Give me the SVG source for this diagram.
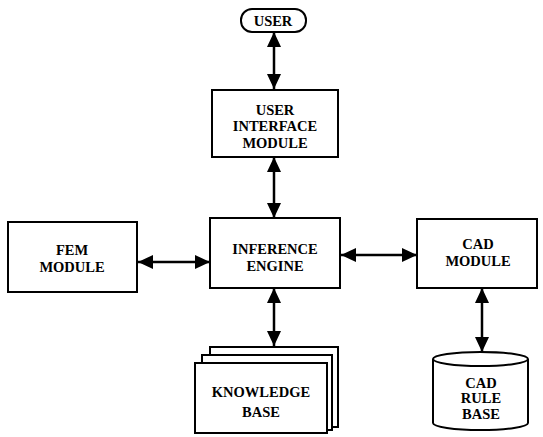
<svg xmlns="http://www.w3.org/2000/svg" width="543" height="437" viewBox="0 0 543 437">
<style>
.b{fill:#fff;stroke:#000;stroke-width:2}
.t{font-family:"Liberation Serif",serif;font-weight:bold;font-size:14.5px;text-anchor:middle;fill:#000}
.c{stroke:#000;stroke-width:2.5;fill:none;marker-start:url(#ah);marker-end:url(#ah)}
</style>
<defs>
<marker id="ah" viewBox="0 0 15 14" refX="15" refY="7" markerWidth="15" markerHeight="14" markerUnits="userSpaceOnUse" orient="auto-start-reverse">
<path d="M0,0 L15,7 L0,14 Z" fill="#000"/>
</marker>
</defs>
<rect width="543" height="437" fill="#fff"/>
<g id="connectors">
<line class="c" x1="274" y1="32" x2="274" y2="89"/>
<line class="c" x1="274" y1="157" x2="274" y2="218"/>
<line class="c" x1="138" y1="262" x2="210" y2="262"/>
<line class="c" x1="341" y1="255" x2="417" y2="255"/>
<line class="c" x1="274" y1="288" x2="274" y2="346"/>
<line class="c" x1="482" y1="288" x2="482" y2="352"/>
</g>
<g id="user">
<rect class="b" x="241" y="9" width="65" height="23" rx="11"/>
<text class="t" x="273" y="26">USER</text>
</g>
<g id="ui">
<rect class="b" x="212" y="90" width="126" height="67"/>
<text class="t" x="275" y="115">USER</text>
<text class="t" x="275" y="131">INTERFACE</text>
<text class="t" x="275" y="148">MODULE</text>
</g>
<g id="fem">
<rect class="b" x="8" y="222" width="129" height="70"/>
<text class="t" x="72" y="255">FEM</text>
<text class="t" x="72" y="272">MODULE</text>
</g>
<g id="ie">
<rect class="b" x="210" y="218" width="130" height="70"/>
<text class="t" x="275" y="254">INFERENCE</text>
<text class="t" x="275" y="271">ENGINE</text>
</g>
<g id="cad">
<rect class="b" x="417" y="219" width="120" height="69"/>
<text class="t" x="478" y="249">CAD</text>
<text class="t" x="478" y="266">MODULE</text>
</g>
<g id="kb">
<rect class="b" x="210" y="347" width="128" height="80"/>
<rect class="b" x="202" y="355" width="130" height="75"/>
<rect class="b" x="195" y="363" width="132" height="70"/>
<text class="t" x="261" y="397">KNOWLEDGE</text>
<text class="t" x="261" y="417">BASE</text>
</g>
<g id="cadrb">
<path class="b" d="M433,359 L433,423 A47.5,7 0 0 0 528,423 L528,359 A47.5,7 0 0 0 433,359 Z"/>
<path d="M433,359 A47.5,7 0 0 0 528,359" fill="none" stroke="#000" stroke-width="2"/>
<text class="t" x="481" y="388">CAD</text>
<text class="t" x="481" y="403">RULE</text>
<text class="t" x="481" y="419">BASE</text>
</g>
</svg>
